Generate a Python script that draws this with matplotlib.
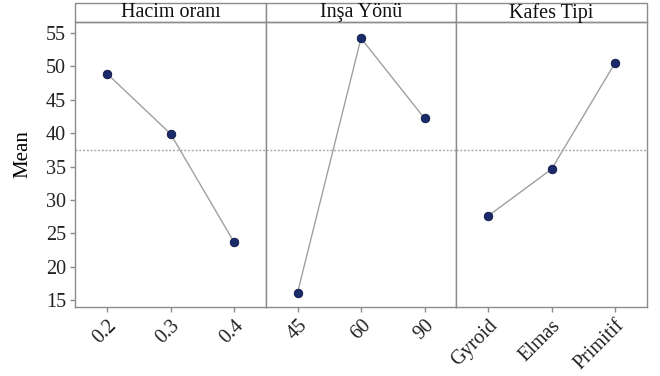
import matplotlib
matplotlib.use("Agg")
import matplotlib.pyplot as plt

plt.rcParams['font.family'] = ['Liberation Serif', 'DejaVu Serif']

factors = ['Hacim oranı', 'Inşa Yönü', 'Kafes Tipi']
levels = [['0.2', '0.3', '0.4'], ['45', '60', '90'], ['Gyroid', 'Elmas', 'Primitif']]
means = [[48.9, 39.9, 23.7], [16.1, 54.2, 42.2], [27.6, 34.6, 50.5]]
grand_mean = 37.5
yticks = [15, 20, 25, 30, 35, 40, 45, 50, 55]

edge = '#8c8c8c'
fig, axes = plt.subplots(1, 3, figsize=(6.6, 3.76), dpi=100, sharey=True)
fig.subplots_adjust(left=0.114, right=0.98, top=0.941, bottom=0.183, wspace=0)

for i, ax in enumerate(axes):
    x = range(len(levels[i]))
    ax.plot(x, means[i], color='#a0a0a0', lw=1.0, zorder=2)
    ax.scatter(x, means[i], s=38, color='#1b2a6b', edgecolor='#0b1540', lw=0.6, zorder=3)
    ax.axhline(grand_mean, color='#a8a8a8', lw=1.0, ls=(0, (1.5, 1.2)), zorder=1)
    ax.set_xlim(-0.5, 2.5)
    ax.set_ylim(13.95, 56.6)
    ax.set_xticks(list(x))
    ax.set_xticklabels(levels[i], rotation=45, ha='right', rotation_mode='anchor', fontsize=14.5)
    ax.set_yticks(yticks)
    for s in ax.spines.values():
        s.set_color(edge)
        s.set_linewidth(1.0)
    ax.tick_params(colors='#222222', color=edge, length=3.5, width=1.0, labelsize=14.5, pad=3)
    ax.tick_params(axis='y', left=(i == 0))

    # title strip above each panel
    strip_h = 0.0665
    rect = plt.Rectangle((0, 1.0), 1, strip_h, transform=ax.transAxes,
                         facecolor='white', edgecolor=edge, lw=1.0, clip_on=False)
    ax.add_patch(rect)
    ax.text(0.5, 1.0 + strip_h / 2, factors[i], transform=ax.transAxes,
            ha='center', va='center', fontsize=14.5, color='#111111')

axes[0].set_ylabel('Mean', fontsize=15)
axes[0].yaxis.set_label_coords(-0.225, 0.537)

fig.savefig('out.png', dpi=100)
